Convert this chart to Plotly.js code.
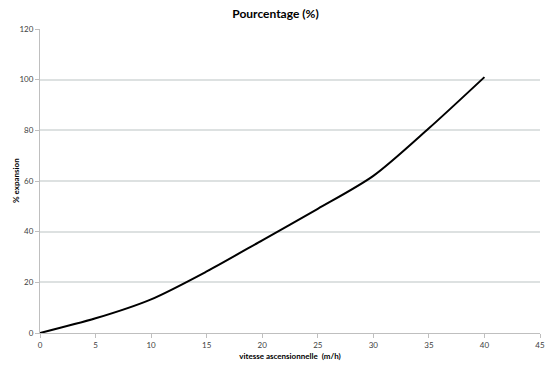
<!DOCTYPE html>
<html>
<head>
<meta charset="utf-8">
<script src="https://cdn.plot.ly/plotly-3.0.1.min.js"></script>
<style>html,body{margin:0;padding:0;background:#fff;}#chart{width:551px;height:369px;}</style>
</head>
<body>
<div id="chart"></div>
<script>
var vitesse = [0, 5, 10, 15, 20, 25, 30, 35, 40];
var expansion = [0, 5.8, 13.3, 24.3, 36.6, 49, 62, 80.8, 101];
var xTicks = [0, 5, 10, 15, 20, 25, 30, 35, 40, 45];
var yTicks = [0, 20, 40, 60, 80, 100, 120];

var trace = {
  x: vitesse, y: expansion, type: 'scatter', mode: 'lines',
  line: {color: '#000000', width: 2, shape: 'spline', smoothing: 0.8},
  hoverinfo: 'skip'
};
var fontFam = 'Lato, "Open Sans", sans-serif';
var layout = {
  width: 551, height: 369,
  margin: {l: 40, r: 11, t: 29, b: 36},
  paper_bgcolor: '#ffffff', plot_bgcolor: '#ffffff',
  showlegend: false,
  title: {text: '<b>Pourcentage (%)</b>', font: {family: fontFam, size: 12, color: '#000'}, x: 0.5, xanchor: 'center', y: 0.962, yanchor: 'middle'},
  xaxis: {
    range: [0, 45], tickvals: xTicks, ticktext: xTicks.map(String),
    showgrid: false, zeroline: false,
    showline: true, linecolor: '#bfbfbf', linewidth: 1,
    ticks: 'outside', ticklen: 4, tickcolor: '#bfbfbf',
    tickfont: {family: fontFam, size: 8, color: '#404040'},
    title: {text: '<b>vitesse ascensionnelle  (m/h)</b>', font: {family: fontFam, size: 8, color: '#000'}, standoff: 4}
  },
  yaxis: {
    range: [0, 120], tickvals: yTicks, ticktext: yTicks.map(String),
    showgrid: true, gridcolor: '#dde1e1', gridwidth: 2, zeroline: false,
    showline: true, linecolor: '#bfbfbf', linewidth: 1,
    ticks: 'outside', ticklen: 4, tickcolor: '#bfbfbf',
    tickfont: {family: fontFam, size: 8, color: '#404040'}
  },
  annotations: [{
    text: '<b>% expansion</b>', textangle: -90, showarrow: false,
    xref: 'paper', yref: 'paper', x: -0.048, y: 0.5, xanchor: 'center', yanchor: 'middle',
    font: {family: fontFam, size: 8, color: '#000'}
  }]
};
Plotly.newPlot('chart', [trace], layout, {staticPlot: true, displayModeBar: false});
</script>
</body>
</html>
